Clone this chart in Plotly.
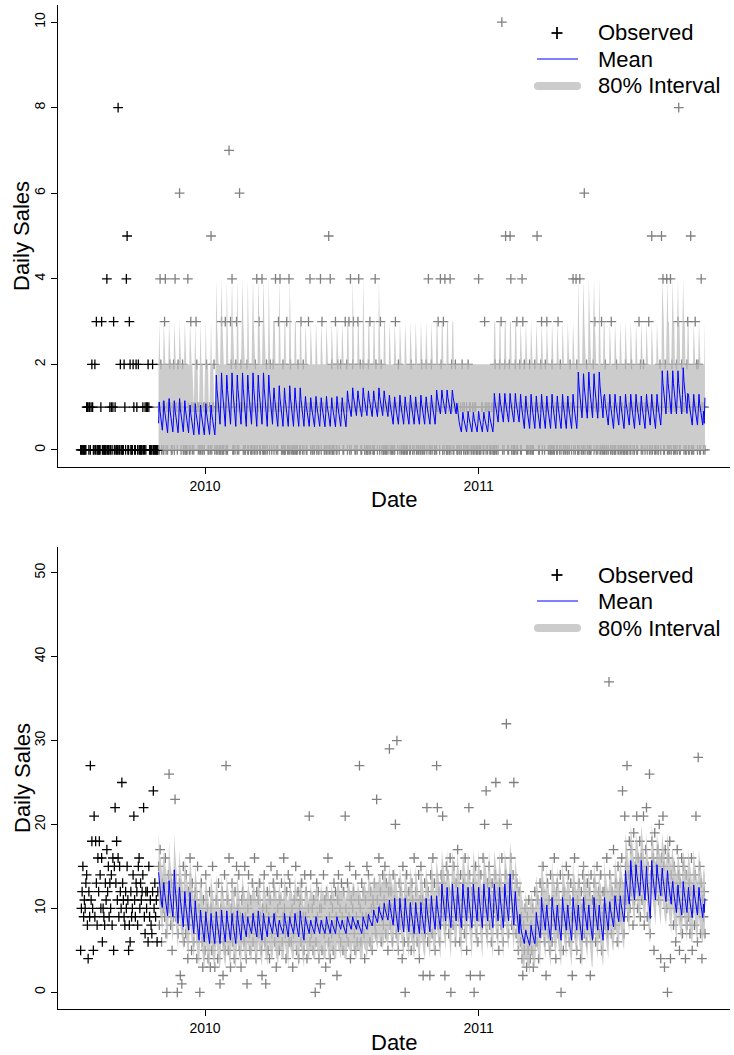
import pandas as pd
import plotly.graph_objects as go

# ---------------- dates ----------------
hist_start = "2009-07-19"   # first observed day (history, black)
fcst_start = "2009-10-31"   # first forecast day (grey actuals + forecast)

# ---------------- top panel: observed daily counts (one char per day, 'a' = 10) ----------------
top_obs_hist = ("0000000 0111010 1210020 3000001 3000000 4000101 0130100 0800200 "
                "0021045 0032000 2100210 2000001 0010112 1000020 000000")
top_obs_fcst = ("1042010 0340101 1210012 0411021 6101200 1000410 0310101 1321010 0100101 1210010 "
                "5011201 0101000 3000130 0017132 4001023 0106121 1010012 0011001 0102040 1300140 "
                "0010201 1021012 0140103 1410020 0013004 0201000 1000210 0310201 1001314 0100101 "
                "1010014 0311001 0105040 2000130 0210121 1001312 0130401 2310010 3412001 2101000 "
                "2030110 0042101 1032010 0100101 1010010 0311021 0101000 1000110 0210101 1001010 "
                "0200101 2014010 2011001 0131042 1030410 0010402 1001210 0100102 1010010 2011001 "
                "0101000 4000110 0310101 1001010 0200101 213a010 2511002 5401000 2030112 0043121 "
                "1001020 0100121 1510012 3011021 3101000 2000110 0310201 1001010 0102101 4010420 "
                "0041001 0601200 1000112 0310101 1003010 0200101 1030010 0021001 0101000 2000110 "
                "0210101 1001312 0102101 1013010 5011001 0101205 1400214 0010402 1001020 3800121 "
                "1010023 0015001 0131202 1004110 10")

# top panel forecast: weekly shapes of the mean and of the 80% upper bound (lower bound is 0)
top_mean_rows = [
    [0.62, 1.12, 0.90, 0.76, 0.61, 0.46, 0.72],
    [1.15, 0.93, 0.78, 0.63, 0.48, 0.40, 0.74],
    [1.20, 0.96, 0.80, 0.64, 0.48, 0.42, 0.76],
    [1.05, 0.84, 0.70, 0.56, 0.42, 0.35, 0.67],
    [1.08, 0.86, 0.71, 0.56, 0.41, 0.36, 0.69],
    [1.75, 1.41, 1.18, 0.95, 0.72, 0.60, 1.12],
    [1.80, 1.43, 1.18, 0.93, 0.68, 0.55, 1.11],
    [1.45, 1.18, 1.00, 0.82, 0.64, 0.55, 0.96],
    [1.50, 1.21, 1.02, 0.83, 0.64, 0.55, 0.98],
    [1.25, 1.04, 0.90, 0.76, 0.62, 0.55, 0.87],
    [1.22, 1.02, 0.88, 0.75, 0.61, 0.54, 0.85],
    [1.38, 1.20, 1.08, 0.96, 0.84, 0.78, 1.05],
    [1.45, 1.25, 1.12, 0.99, 0.86, 0.80, 1.09],
    [1.28, 1.08, 0.94, 0.80, 0.67, 0.60, 0.91],
    [1.24, 1.05, 0.92, 0.79, 0.66, 0.60, 0.89],
    [1.40, 1.23, 1.12, 1.01, 0.90, 0.84, 1.09],
    [0.90, 0.76, 0.66, 0.56, 0.47, 0.42, 0.64],
    [0.88, 0.74, 0.64, 0.54, 0.46, 0.42, 0.62],
    [1.32, 1.12, 0.99, 0.85, 0.72, 0.65, 0.95],
    [1.30, 1.06, 0.90, 0.74, 0.58, 0.50, 0.86],
    [1.26, 1.03, 0.88, 0.72, 0.57, 0.50, 0.84],
    [1.82, 1.50, 1.29, 1.07, 0.86, 0.75, 1.23],
    [1.78, 1.47, 1.26, 1.05, 0.84, 0.74, 1.21],
    [1.85, 1.55, 1.35, 1.14, 0.94, 0.84, 1.29],
    [1.92, 1.60, 1.38, 1.16, 0.95, 0.85, 1.32],
    [1.30, 1.08, 0.94, 0.80, 0.65, 0.58, 0.90],
]
top_hi_rows = [
    [2, 3, 2, 2, 2, 2, 2], [3, 2, 2, 2, 2, 2, 2], [3, 2, 2, 2, 2, 2, 2], [3, 2, 2, 2, 1, 1, 2],
    [3, 2, 2, 2, 1, 1, 2], [4, 3, 2, 2, 2, 2, 3], [4, 3, 2, 2, 2, 2, 2], [3, 3, 2, 2, 2, 2, 2],
    [4, 3, 2, 2, 2, 2, 2], [3, 2, 2, 2, 2, 2, 2], [3, 2, 2, 2, 2, 2, 2], [3, 3, 2, 2, 2, 2, 2],
    [4, 3, 2, 2, 2, 2, 2], [3, 2, 2, 2, 2, 2, 2], [3, 2, 2, 2, 2, 2, 2], [3, 3, 2, 2, 2, 2, 2],
    [2, 2, 2, 2, 2, 2, 2], [2, 2, 2, 2, 2, 2, 2], [3, 3, 2, 2, 2, 2, 2], [3, 2, 2, 2, 2, 2, 2],
    [3, 2, 2, 2, 2, 2, 2], [4, 3, 2, 2, 2, 2, 3], [4, 3, 2, 2, 2, 2, 2], [4, 3, 3, 2, 2, 2, 3],
    [4, 3, 3, 2, 2, 2, 3], [3, 2, 2, 2, 2, 2, 2],
]
top_week_rows = [0, 1, 2, 1, 2, 1, 3, 4, 3, 4, 3,
                 5, 6, 5, 6, 5, 6, 5, 6, 5, 6, 5,
                 7, 8, 7, 8, 7, 7,
                 9, 10, 9, 10, 9, 10, 9, 10,
                 11, 12, 11, 12, 11, 11, 12, 11,
                 13, 14, 13, 14, 13, 14, 13, 14, 13,
                 15, 15, 15, 15,
                 16, 17, 16, 17, 16, 17, 16,
                 18, 18, 18, 18, 18,
                 19, 20, 19, 20, 19, 20, 19, 20, 19, 20, 19,
                 21, 22, 21, 22, 21,
                 25, 19, 25, 20, 25, 19, 25, 20, 25, 19, 25,
                 23, 23, 23, 23, 24,
                 25, 25, 25]
top_mean_tail = [0.62, 1.22]
top_hi_tail = [2, 3]

# ---------------- bottom panel ----------------
bot_obs_hist = [5, 10, 12, 15, 9, 11, 10, 13, 14, 8, 4, 12, 9, 27, 11, 18, 10, 5, 21, 9, 18,
                13, 8, 16, 12, 18, 14, 10, 16, 6, 10, 9, 8, 13, 11, 17, 12, 15, 9, 13, 10, 14,
                8, 16, 5, 15, 22, 13, 18, 11, 16, 9, 15, 12, 10, 25, 13, 11, 9, 8, 12, 10, 15,
                11, 5, 8, 6, 12, 9, 10, 14, 21, 11, 9, 13, 12, 8, 15, 16, 10, 13, 11, 12, 14,
                22, 9, 7, 12, 10, 12, 6, 15, 9, 11, 8, 7, 12, 24, 10, 13, 9, 11, 6, 12]
bot_obs_fcst = [
    15, 8, 17, 11, 6, 13, 10, 12, 9, 16, 7, 0, 11, 14, 26, 10, 8, 13, 5, 12, 9,
    14, 23, 9, 11, 0, 7, 12, 13, 2, 10, 1, 8, 15, 6, 11, 7, 14, 9, 4, 12, 8,
    16, 10, 5, 13, 8, 6, 11, 12, 9, 4, 15, 7, 10, 0, 9, 13, 6, 3, 11, 8, 5,
    14, 7, 10, 4, 8, 12, 3, 10, 5, 15, 8, 6, 3, 9, 11, 8, 4, 13, 7, 1, 10,
    9, 12, 2, 6, 14, 5, 27, 8, 11, 5, 16, 7, 3, 10, 13, 6, 9, 4, 12, 8, 15,
    7, 10, 14, 5, 9, 3, 11, 12, 8, 6, 15, 9, 4, 1, 10, 14, 7, 5, 11, 8, 13,
    6, 9, 16, 8, 4, 12, 7, 11, 7, 13, 9, 5, 2, 10, 8, 14, 6, 1, 10, 12, 5,
    9, 4, 11, 15, 7, 8, 13, 12, 6, 9, 3, 14, 10, 7, 5, 11, 8, 13, 6, 9, 16,
    10, 7, 4, 12, 8, 14, 6, 13, 9, 6, 10, 3, 7, 11, 8, 15, 5, 9, 12, 4, 10,
    11, 6, 13, 7, 9, 5, 14, 9, 12, 4, 8, 10, 21, 6, 14, 7, 10, 5, 11, 8, 0,
    6, 13, 9, 12, 4, 10, 1, 10, 5, 8, 14, 7, 11, 3, 12, 8, 16, 6, 9, 4, 11,
    7, 10, 5, 13, 8, 12, 9, 2, 11, 14, 7, 10, 6, 13, 9, 5, 12, 8, 21, 10, 7,
    13, 6, 9, 15, 4, 11, 8, 10, 12, 7, 5, 14, 9, 6, 8, 11, 27, 10, 6, 13, 9,
    12, 7, 4, 11, 9, 15, 8, 14, 9, 6, 12, 10, 5, 11, 10, 13, 8, 7, 23, 11, 9,
    16, 10, 12, 6, 9, 14, 8, 11, 15, 7, 13, 10, 5, 12, 29, 8, 12, 10, 6, 14, 9,
    11, 20, 7, 30, 9, 5, 13, 8, 12, 10, 4, 15, 9, 6, 0, 11, 14, 8, 6, 12, 10,
    9, 5, 13, 11, 7, 16, 8, 12, 10, 6, 9, 14, 4, 11, 15, 8, 11, 2, 10, 13, 7,
    9, 22, 6, 12, 10, 2, 14, 11, 7, 16, 9, 13, 5, 10, 27, 22, 8, 12, 6, 10, 14,
    13, 21, 9, 11, 2, 8, 15, 10, 14, 7, 12, 16, 0, 9, 12, 8, 15, 10, 6, 13, 11,
    17, 9, 11, 6, 14, 10, 8, 11, 13, 7, 16, 9, 5, 12, 10, 22, 14, 2, 8, 12, 9,
    13, 0, 11, 15, 7, 10, 6, 9, 12, 2, 14, 11, 8, 16, 12, 20, 10, 24, 7, 13, 9,
    15, 8, 11, 6, 13, 10, 12, 10, 14, 25, 9, 7, 12, 5, 13, 11, 8, 16, 10, 6, 12,
    9, 14, 32, 20, 11, 7, 13, 12, 16, 8, 10, 14, 25, 9, 11, 7, 13, 9, 5, 12, 8,
    6, 9, 4, 2, 8, 5, 10, 7, 3, 9, 5, 11, 6, 4, 8, 5, 10, 3, 7, 12, 6,
    9, 6, 11, 4, 8, 13, 7, 12, 8, 15, 10, 6, 9, 2, 10, 13, 7, 11, 5, 14, 8,
    6, 11, 9, 16, 8, 4, 12, 13, 7, 10, 8, 14, 0, 9, 11, 5, 12, 9, 7, 15, 10,
    8, 14, 6, 11, 13, 9, 2, 12, 9, 16, 7, 10, 5, 11, 9, 13, 8, 4, 12, 10, 14,
    15, 7, 11, 9, 6, 13, 8, 10, 12, 2, 14, 8, 11, 7, 13, 9, 6, 10, 15, 8, 12,
    7, 11, 14, 5, 9, 12, 10, 12, 8, 10, 16, 7, 9, 37, 14, 10, 7, 12, 9, 17, 11,
    8, 13, 11, 6, 15, 10, 12, 13, 9, 16, 24, 11, 7, 21, 15, 11, 27, 9, 14, 18, 10,
    17, 12, 14, 8, 19, 11, 15, 13, 21, 10, 16, 12, 18, 9, 16, 11, 14, 21, 8, 13, 17,
    22, 9, 15, 12, 26, 7, 14, 18, 13, 16, 5, 19, 12, 15, 14, 17, 11, 20, 13, 4, 16,
    12, 21, 15, 3, 17, 13, 10, 0, 16, 12, 18, 4, 14, 11, 13, 8, 15, 10, 6, 12, 17,
    11, 14, 5, 13, 9, 16, 7, 15, 10, 12, 4, 14, 8, 11, 9, 13, 7, 12, 16, 5, 10,
    12, 8, 14, 21, 10, 6, 28, 10, 15, 7, 13, 4, 11, 9, 12, 7,
]

# bottom panel forecast: weekly shapes of mean, upper and lower 80% bounds
bot_mean_rows = [
    [14.3, 13.0, 12.2, 11.4, 10.5, 10.1, 12.0], [13.1, 11.9, 11.1, 10.3, 9.5, 9.1, 10.9],
    [13.3, 12.0, 11.2, 10.3, 9.4, 9.0, 10.9], [14.6, 12.7, 11.4, 10.1, 8.8, 8.2, 11.1],
    [12.5, 11.1, 10.2, 9.2, 8.3, 7.8, 9.9], [12.0, 10.6, 9.7, 8.8, 7.9, 7.4, 9.5],
    [11.9, 10.4, 9.5, 8.5, 7.5, 7.0, 9.2], [10.9, 9.5, 8.6, 7.6, 6.7, 6.2, 8.3],
    [9.8, 8.7, 7.9, 7.1, 6.4, 6.0, 7.7], [9.6, 8.5, 7.7, 6.9, 6.2, 5.8, 7.5],
    [9.4, 8.3, 7.6, 6.9, 6.2, 5.8, 7.4], [9.7, 8.7, 8.0, 7.3, 6.6, 6.2, 7.8],
    [9.4, 8.6, 8.0, 7.4, 6.9, 6.6, 7.9], [9.0, 8.4, 8.0, 7.6, 7.2, 7.0, 7.9],
    [8.6, 8.1, 7.8, 7.5, 7.2, 7.0, 7.7], [9.0, 8.6, 8.3, 8.0, 7.7, 7.5, 8.2],
    [9.3, 8.9, 8.6, 8.3, 8.0, 7.9, 8.5], [9.8, 9.4, 9.1, 8.8, 8.5, 8.3, 9.0],
    [10.2, 9.7, 9.4, 9.1, 8.8, 8.6, 9.3], [10.6, 10.0, 9.6, 9.2, 8.8, 8.6, 9.5],
    [11.0, 10.1, 9.5, 8.9, 8.3, 8.0, 9.4], [11.2, 10.0, 9.2, 8.4, 7.6, 7.2, 9.0],
    [10.7, 9.6, 8.9, 8.1, 7.4, 7.0, 8.7], [11.5, 10.3, 9.5, 8.7, 7.9, 7.5, 9.3],
    [12.9, 11.6, 10.7, 9.8, 8.9, 8.5, 10.5], [12.5, 11.1, 10.1, 9.1, 8.2, 7.7, 9.9],
    [14.1, 12.3, 11.1, 9.8, 8.6, 8.0, 10.7], [12.0, 10.5, 9.5, 8.5, 7.5, 7.0, 9.3],
    [8.0, 7.3, 6.9, 6.5, 6.0, 5.8, 6.8], [7.4, 6.9, 6.5, 6.1, 5.8, 5.6, 6.4],
    [9.5, 8.6, 8.0, 7.4, 6.8, 6.5, 7.9], [11.3, 10.1, 9.4, 8.6, 7.8, 7.4, 9.2],
    [10.4, 9.1, 8.3, 7.5, 6.6, 6.2, 8.1], [10.8, 9.9, 9.3, 8.7, 8.1, 7.8, 9.2],
    [11.5, 10.6, 10.0, 9.3, 8.7, 8.4, 9.8], [14.5, 13.3, 12.5, 11.7, 10.9, 10.5, 12.3],
    [15.0, 13.1, 11.9, 10.7, 9.4, 8.8, 11.6], [15.7, 14.3, 13.4, 12.4, 11.5, 11.0, 13.1],
    [15.2, 14.1, 13.4, 12.6, 11.9, 11.5, 13.2], [14.8, 13.6, 12.8, 12.0, 11.2, 10.8, 12.6],
    [13.2, 12.1, 11.4, 10.6, 9.9, 9.5, 11.2], [12.8, 11.7, 11.0, 10.3, 9.6, 9.2, 10.8],
    [12.5, 11.4, 10.7, 10.0, 9.3, 8.9, 10.5],
]
bot_hi_rows = [
    [19, 17, 16, 16, 15, 14, 16], [17, 16, 15, 15, 14, 13, 15], [18, 16, 15, 15, 14, 13, 15],
    [19, 17, 16, 14, 13, 12, 15], [17, 15, 14, 13, 13, 12, 14], [16, 15, 14, 13, 12, 12, 14],
    [16, 15, 14, 13, 12, 11, 13], [15, 14, 13, 12, 11, 10, 13], [14, 13, 12, 11, 11, 10, 12],
    [14, 13, 12, 11, 10, 10, 12], [14, 13, 12, 11, 10, 10, 12], [14, 13, 12, 12, 11, 10, 12],
    [14, 13, 12, 12, 11, 11, 12], [13, 13, 12, 12, 11, 11, 12], [13, 12, 12, 12, 11, 11, 12],
    [13, 13, 13, 12, 12, 12, 12], [14, 13, 13, 13, 12, 12, 13], [14, 14, 13, 13, 13, 13, 13],
    [14, 14, 14, 13, 13, 13, 14], [15, 14, 14, 13, 13, 13, 14], [15, 14, 14, 13, 13, 12, 14],
    [15, 14, 13, 13, 12, 11, 13], [15, 14, 13, 12, 12, 11, 13], [16, 15, 14, 13, 12, 12, 14],
    [17, 16, 15, 14, 13, 13, 15], [17, 15, 14, 13, 12, 12, 14], [18, 17, 15, 14, 13, 12, 15],
    [16, 15, 14, 13, 12, 11, 14], [12, 12, 11, 11, 10, 10, 11], [12, 11, 11, 10, 10, 10, 11],
    [14, 13, 12, 12, 11, 11, 12], [16, 14, 14, 13, 12, 12, 13], [15, 13, 13, 12, 11, 10, 12],
    [15, 14, 14, 13, 12, 12, 13], [16, 15, 14, 14, 13, 13, 14], [19, 18, 17, 16, 15, 15, 17],
    [19, 17, 16, 15, 14, 13, 16], [20, 19, 18, 17, 16, 15, 17], [19, 18, 18, 17, 16, 16, 17],
    [19, 18, 17, 16, 15, 15, 17], [17, 16, 16, 15, 14, 14, 15], [17, 16, 15, 15, 14, 13, 15],
    [17, 16, 15, 14, 14, 13, 15],
]
bot_lo_rows = [
    [11, 10, 9, 8, 7, 7, 9], [10, 9, 8, 7, 6, 6, 8], [10, 9, 8, 7, 6, 6, 8], [11, 9, 8, 7, 6, 5, 8],
    [9, 8, 7, 6, 5, 5, 7], [9, 7, 6, 6, 5, 4, 6], [9, 7, 6, 5, 4, 4, 6], [8, 6, 5, 4, 3, 3, 5],
    [7, 5, 5, 4, 3, 3, 4], [6, 5, 4, 4, 3, 3, 4], [6, 5, 4, 4, 3, 3, 4], [6, 5, 5, 4, 3, 3, 5],
    [6, 5, 5, 4, 4, 3, 5], [6, 5, 5, 4, 4, 4, 5], [5, 5, 5, 4, 4, 4, 4], [6, 5, 5, 5, 4, 4, 5],
    [6, 6, 5, 5, 5, 5, 5], [7, 6, 6, 6, 5, 5, 6], [7, 6, 6, 6, 6, 5, 6], [7, 7, 6, 6, 6, 5, 6],
    [8, 7, 6, 6, 5, 5, 6], [8, 7, 6, 5, 4, 4, 6], [7, 6, 6, 5, 4, 4, 5], [8, 7, 6, 5, 5, 4, 6],
    [10, 8, 7, 7, 6, 5, 7], [9, 8, 7, 6, 5, 4, 7], [11, 9, 8, 7, 5, 5, 7], [9, 7, 6, 5, 4, 4, 6],
    [5, 4, 4, 3, 3, 3, 4], [4, 4, 3, 3, 3, 2, 3], [6, 5, 5, 4, 4, 3, 5], [8, 7, 6, 5, 5, 4, 6],
    [7, 6, 5, 4, 3, 3, 5], [8, 7, 6, 5, 5, 5, 6], [8, 7, 7, 6, 5, 5, 7], [11, 10, 9, 8, 8, 7, 9],
    [12, 10, 9, 7, 6, 6, 8], [12, 11, 10, 9, 8, 8, 10], [12, 11, 10, 9, 9, 8, 10],
    [12, 10, 10, 9, 8, 8, 9], [10, 9, 8, 7, 7, 6, 8], [10, 8, 8, 7, 6, 6, 8], [9, 8, 7, 7, 6, 6, 7],
]
bot_week_rows = [0, 1, 2, 3, 4, 5, 6, 7,
                 8, 9, 10, 9, 8, 11, 10, 11,
                 12, 13, 12, 11, 12, 13, 12, 14, 12, 13, 12, 11, 13,
                 14, 13, 14, 13, 14,
                 15, 14, 15, 15, 14, 15,
                 16, 17, 18, 19, 20, 21, 21,
                 21, 22, 22, 22, 21, 23, 23,
                 24, 25, 24, 25, 24, 25, 24, 25, 24, 25, 24, 25, 24, 26,
                 27, 28, 29, 28, 30,
                 31, 32, 31, 32, 31, 32, 31, 32, 31, 32, 31, 32, 31,
                 33, 34, 34, 35, 37, 38, 37, 36, 37, 38, 39, 35,
                 40, 41, 40, 42, 41, 42]
bot_mean_tail = [9.5, 11.2]
bot_hi_tail = [14, 15]
bot_lo_tail = [6, 8]

legend_labels = ["Observed", "Mean", "80% Interval"]

# ---------------- assemble series ----------------
def digits(s):
    return [int(c, 16) for c in s if c != " "]

def weekly(rows, week_rows, tail):
    out = []
    for r in week_rows:
        out.extend(rows[r])
    return out + list(tail)

top_hist = digits(top_obs_hist)
top_act = digits(top_obs_fcst)
top_mean = weekly(top_mean_rows, top_week_rows, top_mean_tail)
top_hi = weekly(top_hi_rows, top_week_rows, top_hi_tail)
bot_mean = weekly(bot_mean_rows, bot_week_rows, bot_mean_tail)
bot_hi = weekly(bot_hi_rows, bot_week_rows, bot_hi_tail)
bot_lo = weekly(bot_lo_rows, bot_week_rows, bot_lo_tail)

hist_dates = pd.date_range(hist_start, periods=len(top_hist), freq="D")
fcst_dates = pd.date_range(fcst_start, periods=len(top_act), freq="D")

# ---------------- styling ----------------
FONT = "Liberation Sans, Arial, Helvetica, sans-serif"
BAND = "rgba(187,187,187,0.75)"      # looks #cccccc on white, lets covered points show faintly
BAND_LEG = "#cccccc"
GREY = "#808080"
BLUE = "#0000ff"
W, H = 734, 1055

def cross(color):
    return dict(symbol="cross-thin", size=7, color=color, line=dict(width=1.3, color=color))

fig = go.Figure()

panels = [
    dict(xa="x", ya="y", hist=top_hist, act=top_act, mean=top_mean, hi=top_hi, lo=None,
         title_y=236, date_y=499, leg_y=[33, 59, 86]),
    dict(xa="x2", ya="y2", hist=bot_obs_hist, act=bot_obs_fcst, mean=bot_mean, hi=bot_hi,
         lo=bot_lo, title_y=778, date_y=1042, leg_y=[575, 601, 628]),
]

for p in panels:
    # observed points first, the interval band is laid over them
    fig.add_trace(go.Scatter(x=fcst_dates, y=p["act"], mode="markers", marker=cross(GREY),
                             name="Observed", showlegend=False, xaxis=p["xa"], yaxis=p["ya"]))
    fig.add_trace(go.Scatter(x=hist_dates, y=p["hist"], mode="markers", marker=cross("black"),
                             name="Observed", showlegend=False, xaxis=p["xa"], yaxis=p["ya"]))
    if p["lo"] is None:
        fig.add_trace(go.Scatter(x=fcst_dates, y=p["hi"], mode="lines", fill="tozeroy",
                                 fillcolor=BAND, line=dict(width=0, color=BAND),
                                 name="80% Interval", showlegend=False, hoverinfo="skip",
                                 xaxis=p["xa"], yaxis=p["ya"]))
    else:
        fig.add_trace(go.Scatter(x=fcst_dates, y=p["lo"], mode="lines",
                                 line=dict(width=0, color=BAND), showlegend=False,
                                 hoverinfo="skip", xaxis=p["xa"], yaxis=p["ya"]))
        fig.add_trace(go.Scatter(x=fcst_dates, y=p["hi"], mode="lines", fill="tonexty",
                                 fillcolor=BAND, line=dict(width=0, color=BAND),
                                 name="80% Interval", showlegend=False, hoverinfo="skip",
                                 xaxis=p["xa"], yaxis=p["ya"]))
    fig.add_trace(go.Scatter(x=fcst_dates, y=p["mean"], mode="lines", name="Mean",
                             line=dict(color=BLUE, width=1), showlegend=False,
                             xaxis=p["xa"], yaxis=p["ya"]))

x_range = ["2009-06-18 19:00", "2011-12-02 10:00"]
x_dom = [58 / W, 730 / W]
top_dom = [1 - 467 / H, 1 - 5 / H]
bot_dom = [1 - 1009.4 / H, 1 - 547.2 / H]

xcommon = dict(range=x_range, domain=x_dom, showline=True, linecolor="black", linewidth=1,
               ticks="outside", ticklen=6, tickcolor="black", tickwidth=1,
               tickvals=["2010-01-01", "2011-01-01"], ticktext=["2010", "2011"],
               tickfont=dict(size=14, color="black", family=FONT),
               showgrid=False, zeroline=False)
ycommon = dict(showline=True, linecolor="black", linewidth=1, ticks="outside", ticklen=6,
               tickcolor="black", tickwidth=1, tickangle=-90,
               tickfont=dict(size=14, color="black", family=FONT),
               showgrid=False, zeroline=False)

def px(x):
    return x / W

def py(y):
    return 1 - y / H

annotations = []
shapes = []
TXT = dict(size=22, family=FONT, color="black")
for p in panels:
    annotations.append(dict(text="Daily Sales", x=px(22), y=py(p["title_y"]), xref="paper",
                            yref="paper", xanchor="center", yanchor="middle", textangle=-90,
                            showarrow=False, font=TXT))
    annotations.append(dict(text="Date", x=px(394), y=py(p["date_y"]), xref="paper",
                            yref="paper", xanchor="center", yanchor="middle",
                            showarrow=False, font=TXT))
    # legend (drawn manually to match spacing)
    ly = p["leg_y"]
    for label, yy in zip(legend_labels, ly):
        annotations.append(dict(text=label, x=px(596), y=py(yy), xref="paper", yref="paper",
                                xanchor="left", yanchor="middle", showarrow=False, font=TXT))
    shapes.append(dict(type="line", xref="paper", yref="paper", x0=px(551.5), x1=px(562.5),
                       y0=py(ly[0]), y1=py(ly[0]), line=dict(color="black", width=1.8)))
    shapes.append(dict(type="line", xref="paper", yref="paper", x0=px(557), x1=px(557),
                       y0=py(ly[0] - 6), y1=py(ly[0] + 6), line=dict(color="black", width=1.8)))
    shapes.append(dict(type="line", xref="paper", yref="paper", x0=px(537), x1=px(578),
                       y0=py(ly[1]), y1=py(ly[1]), line=dict(color=BLUE, width=1.2)))
    shapes.append(dict(type="path", xref="paper", yref="paper", xsizemode="pixel",
                       ysizemode="pixel", xanchor=px(557.5), yanchor=py(ly[2]),
                       path="M -19.5,-4 L 19.5,-4 Q 23.5,-4 23.5,0 Q 23.5,4 19.5,4 "
                            "L -19.5,4 Q -23.5,4 -23.5,0 Q -23.5,-4 -19.5,-4 Z",
                       fillcolor=BAND_LEG, line=dict(width=0)))

fig.update_layout(
    width=W, height=H, margin=dict(l=0, r=0, t=0, b=0),
    paper_bgcolor="white", plot_bgcolor="white",
    font=dict(family=FONT, color="black"),
    showlegend=False,
    xaxis=dict(**xcommon, anchor="y"),
    yaxis=dict(**ycommon, domain=top_dom, range=[-0.4, 10.4], tickvals=[0, 2, 4, 6, 8, 10],
               anchor="x"),
    xaxis2=dict(**xcommon, anchor="y2"),
    yaxis2=dict(**ycommon, domain=bot_dom, range=[-2.04, 53.04],
                tickvals=[0, 10, 20, 30, 40, 50], anchor="x2"),
    hovermode=False,
    annotations=annotations,
    shapes=shapes,
)

fig.write_html("out.html")
